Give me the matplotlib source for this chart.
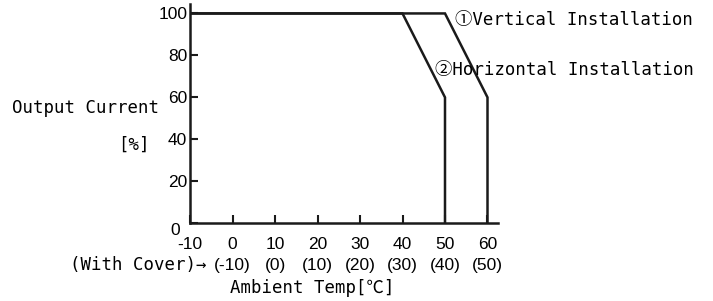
import matplotlib
matplotlib.use("Agg")
import matplotlib.pyplot as plt
import matplotlib.transforms as mtransforms
from matplotlib import font_manager

# ---- data ----
vert_temp = [-10, 50, 60, 60]
vert_current = [100, 100, 60, 0]
horiz_temp = [-10, 40, 50, 50]
horiz_current = [100, 100, 60, 0]
x_ticks = [-10, 0, 10, 20, 30, 40, 50, 60]
x_cover = ["", "(-10)", "(0)", "(10)", "(20)", "(30)", "(40)", "(50)"]
y_ticks = [0, 20, 40, 60, 80, 100]
series_labels = ["①Vertical Installation", "②Horizontal Installation"]

names = {f.name for f in font_manager.fontManager.ttflist}
numfont = "Liberation Sans Narrow" if "Liberation Sans Narrow" in names else "Liberation Sans"
mono = ["DejaVu Sans Mono", "Noto Sans CJK JP", "DejaVu Sans"]

fig = plt.figure(figsize=(7.13, 3.01), dpi=100)
ax = fig.add_axes([190/713, (301-223.3)/301, 307.7/713, (223.3-4)/301])
ax.set_xlim(-10, 62.4)
ax.set_ylim(0, 104.5)

lc = "#1a1a1a"
ax.plot(vert_temp, vert_current, color=lc, lw=1.8, solid_joinstyle="miter")
ax.plot(horiz_temp, horiz_current, color=lc, lw=1.8, solid_joinstyle="miter")

for s in ["top", "right"]:
    ax.spines[s].set_visible(False)
for s in ["left", "bottom"]:
    ax.spines[s].set_linewidth(1.8)
    ax.spines[s].set_color(lc)

ax.set_xticks(x_ticks)
xlabels = [f"{t}\n{c}" if c else f"{t}" for t, c in zip(x_ticks, x_cover)]
ax.set_xticklabels(xlabels, fontfamily=numfont, fontsize=12.5, linespacing=1.45)
ax.set_yticks(y_ticks)
ax.set_yticklabels([str(v) for v in y_ticks], fontfamily=numfont, fontsize=12.5)
ax.tick_params(axis="x", direction="in", length=6, width=1.5, pad=10, color=lc)
ax.tick_params(axis="y", direction="in", length=6, width=1.5, pad=2, color=lc)

# shift the "0" y-label down/left a bit
lab0 = ax.get_yticklabels()[0]
lab0.set_transform(lab0.get_transform() + mtransforms.ScaledTranslation(-7/100, -6/100, fig.dpi_scale_trans))

fs = 12.5
fig.text(12/713, 1-108/301, "Output Current", family=mono, fontsize=fs, va="center", ha="left")
fig.text(150/713, 1-145/301, "[%]", family=mono, fontsize=fs, va="center", ha="right")
fig.text(207/713, 1-265/301, "(With Cover)→", family=mono, fontsize=fs, va="center", ha="right")
fig.text(230/713, 1-288/301, "Ambient Temp[℃]", family=mono, fontsize=fs, va="center", ha="left")
fig.text(455/713, 1-20/301, series_labels[0], family=mono, fontsize=fs, va="center", ha="left")
fig.text(435/713, 1-70/301, series_labels[1], family=mono, fontsize=fs, va="center", ha="left")

fig.savefig("out.png", dpi=100)
